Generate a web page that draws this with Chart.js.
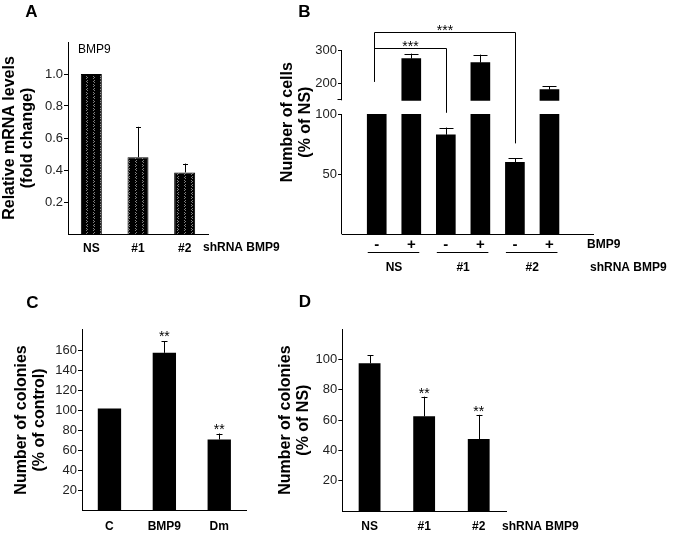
<!DOCTYPE html>
<html>
<head>
<meta charset="utf-8">
<title>BMP9 figure</title>
<script src="https://cdn.jsdelivr.net/npm/chart.js@4.4.1/dist/chart.umd.min.js"></script>
<style>
  html, body { margin: 0; padding: 0; background: #fff; }
  #fig { position: relative; width: 676px; height: 534px; overflow: hidden; background: #fff; }
  #fig canvas { position: absolute; }
</style>
</head>
<body>
<div id="fig">
  <canvas id="panelA" width="300" height="270" style="left:0px;top:0px;width:300px;height:270px"></canvas>
  <canvas id="panelB" width="406" height="285" style="left:270px;top:0px;width:406px;height:285px"></canvas>
  <canvas id="panelC" width="300" height="264" style="left:0px;top:270px;width:300px;height:264px"></canvas>
  <canvas id="panelD" width="406" height="264" style="left:270px;top:270px;width:406px;height:264px"></canvas>
</div>
<script>
// A: BMP9 mRNA after knock-down
const mrnaLabels = ['NS', '#1', '#2'];
const mrnaValues = [1.0, 0.48, 0.385];
const mrnaErrors = [0, 0.19, 0.055];
const mrnaTicks = [0.2, 0.4, 0.6, 0.8, 1.0];

// B: cell number (% of NS), broken axis
const cellGroups = ['NS', '#1', '#2'];
const cellBmp9 = ['-', '+', '-', '+', '-', '+'];
const cellValues = [100, 275, 83, 263, 60, 182];
const cellErrors = [0, 15, 6, 24, 3.5, 10];
const cellTicks = [50, 100, 200, 300];

// C: colonies (% of control)
const colonyLabels = ['C', 'BMP9', 'Dm'];
const colonyValues = [102, 157.5, 71];
const colonyErrors = [0, 11.5, 6];
const colonyStars = ['', '**', '**'];
const colonyTicks = [20, 40, 60, 80, 100, 120, 140, 160];

// D: colonies (% of NS)
const shLabels = ['NS', '#1', '#2'];
const shValues = [97.5, 62.5, 47.5];
const shErrors = [5.5, 13, 16];
const shStars = ['', '**', '**'];
const shTicks = [20, 40, 60, 80, 100];

const FONT = "'Liberation Sans', Arial, Helvetica, sans-serif";
Chart.defaults.font.family = FONT;
Chart.defaults.color = '#000';
Chart.defaults.animation = false;
Chart.defaults.plugins.legend.display = false;
Chart.defaults.plugins.tooltip.enabled = false;

// broken axis of panel B: 0-100 below, 150-300 compressed above
const brk = { lowTop: 100, upFrom: 150, upBase: 111.7, upRate: 0.278 };
function toAxis(v) {
  return v <= brk.lowTop ? v : brk.upBase + (v - brk.upFrom) * brk.upRate;
}

function putText(ctx, str, x, y, font, align, baseline) {
  ctx.save();
  ctx.font = font + ' ' + FONT;
  ctx.fillStyle = '#000';
  ctx.textAlign = align || 'center';
  ctx.textBaseline = baseline || 'middle';
  ctx.fillText(str, x, y);
  ctx.restore();
}

function line(ctx, x1, y1, x2, y2) {
  ctx.save();
  ctx.strokeStyle = '#000';
  ctx.lineWidth = 1;
  ctx.beginPath();
  ctx.moveTo(x1, y1);
  ctx.lineTo(x2, y2);
  ctx.stroke();
  ctx.restore();
}

function errorBar(ctx, x, yFrom, yTo, cap) {
  const cx = Math.round(x) + 0.5;
  line(ctx, cx, yFrom, cx, yTo);
  line(ctx, cx - cap, Math.round(yTo) + 0.5, cx + cap, Math.round(yTo) + 0.5);
}

function yAxis(o) {
  return {
    min: 0,
    max: o.max,
    afterFit: s => { s.width = o.width; },
    afterBuildTicks: s => { s.ticks = o.ticks.map(v => ({ value: v })); },
    ticks: { font: { size: 13 }, color: '#222', padding: 1, callback: o.callback },
    grid: { display: true, drawOnChartArea: false, drawTicks: true, tickLength: 4, color: '#000' },
    border: { display: o.border !== false, color: '#000', width: 1 },
    title: {
      display: true,
      text: o.title,
      color: '#000',
      font: { size: 16, weight: 'bold', lineHeight: 1.1 },
      padding: { top: o.titlePad, bottom: 0 }
    }
  };
}

function xCategory(height, pad) {
  return {
    type: 'category',
    offset: true,
    afterFit: s => { s.height = height; },
    grid: { display: false, drawTicks: false },
    border: { display: true, color: '#000', width: 1 },
    ticks: { font: { size: 12, weight: 'bold' }, color: '#000', padding: pad, maxRotation: 0, autoSkip: false }
  };
}

// dotted fill of panel A bars
function bmpPattern() {
  const c = document.createElement('canvas');
  c.width = 7;
  c.height = 8;
  const g = c.getContext('2d');
  g.fillStyle = '#000';
  g.fillRect(0, 0, 7, 8);
  g.fillStyle = '#808080';
  [[3, 0], [2, 1], [3, 2], [2, 4], [3, 5], [2, 6]].forEach(p => g.fillRect(p[0], p[1], 1, 1));
  return g.createPattern(c, 'repeat');
}

// Panel A
new Chart(document.getElementById('panelA'), {
  type: 'bar',
  data: {
    labels: mrnaLabels,
    datasets: [{
      data: mrnaValues,
      backgroundColor: bmpPattern(),
      borderColor: '#000',
      borderWidth: 1,
      barPercentage: 0.45,
      categoryPercentage: 1
    }]
  },
  options: {
    responsive: false,
    layout: { padding: { left: 0, top: 42, right: 92, bottom: 0 } },
    scales: {
      x: xCategory(36, 7),
      y: yAxis({
        max: 1.2, width: 68, ticks: mrnaTicks, callback: v => v.toFixed(1),
        title: ['Relative mRNA levels', '(fold change)'], titlePad: 1.2
      })
    }
  },
  plugins: [{
    id: 'panelA',
    afterDatasetsDraw(chart) {
      const { ctx, chartArea: a, scales: { y } } = chart;
      const bars = chart.getDatasetMeta(0).data;
      mrnaValues.forEach((v, i) => {
        if (mrnaErrors[i]) errorBar(ctx, bars[i].x, y.getPixelForValue(v), y.getPixelForValue(v + mrnaErrors[i]), 2.5);
      });
      putText(ctx, 'A', 31.5, 12.5, 'bold 17px');
      putText(ctx, 'BMP9', a.left + 10, a.top + 8, '12px', 'left');
      putText(ctx, 'shRNA BMP9', a.right - 5, a.bottom + 14, 'bold 12px', 'left');
    }
  }]
});

// Panel B
const cellBrackets = [
  { from: 0.913, to: 3, top: 155, leftEnd: 127.2, rightEnd: 101.3, label: '***' },
  { from: 0.913, to: 5, top: 168.3, leftEnd: 127.2, rightEnd: 75.8, label: '***' }
];

new Chart(document.getElementById('panelB'), {
  type: 'bar',
  data: {
    datasets: [
      {
        data: cellValues.map((v, i) => ({ x: i + 1, y: Math.min(v, brk.lowTop) })),
        backgroundColor: '#000',
        barThickness: 19,
        grouped: false
      },
      {
        data: cellValues.map((v, i) => ({ x: i + 1, y: [brk.upBase, toAxis(v)] }))
          .filter((d, i) => cellValues[i] > brk.upFrom),
        backgroundColor: '#000',
        barThickness: 19,
        grouped: false
      }
    ]
  },
  options: {
    responsive: false,
    layout: { padding: { left: 0, top: 10, right: 83, bottom: 0 } },
    scales: {
      x: {
        type: 'linear',
        min: 0.6,
        max: 6.655,
        afterFit: s => { s.height = 50.7; },
        afterBuildTicks: s => { s.ticks = cellBmp9.map((b, i) => ({ value: i + 1 })); },
        grid: { display: false, drawTicks: false },
        border: { display: true, color: '#000', width: 1 },
        ticks: { font: { size: 15, weight: 'bold' }, color: '#000', padding: 2, maxRotation: 0, autoSkip: false,
          callback: (v, i) => cellBmp9[i] }
      },
      y: yAxis({
        max: 187, width: 72, ticks: cellTicks.map(toAxis), callback: (v, i) => cellTicks[i],
        title: ['Number of cells', '(% of NS)'], titlePad: 9.2, border: false
      })
    }
  },
  plugins: [{
    id: 'panelB',
    afterDatasetsDraw(chart) {
      const { ctx, chartArea: a, scales: { x, y } } = chart;
      const ax = Math.round(a.left) - 0.5;
      // broken y axis
      line(ctx, ax, y.getPixelForValue(0), ax, y.getPixelForValue(brk.lowTop));
      line(ctx, ax, y.getPixelForValue(brk.upBase), ax, y.getPixelForValue(toAxis(300)));
      const capY = Math.round(y.getPixelForValue(brk.upBase)) - 0.5;
      line(ctx, ax - 4, capY, ax, capY);

      cellValues.forEach((v, i) => {
        const e = cellErrors[i];
        if (e) errorBar(ctx, x.getPixelForValue(i + 1), y.getPixelForValue(toAxis(v)), y.getPixelForValue(toAxis(v + e)), 7);
      });

      cellBrackets.forEach(b => {
        const x1 = Math.round(x.getPixelForValue(b.from)) + 0.5;
        const x2 = Math.round(x.getPixelForValue(b.to)) + 0.5;
        const yt = Math.round(y.getPixelForValue(b.top)) + 0.5;
        line(ctx, x1, y.getPixelForValue(b.leftEnd), x1, yt);
        line(ctx, x1, yt, x2, yt);
        line(ctx, x2, yt, x2, y.getPixelForValue(b.rightEnd));
        putText(ctx, b.label, (x1 + x2) / 2, yt + 2.5, '14px', 'center', 'alphabetic');
      });

      // group underline and names
      cellGroups.forEach((g, k) => {
        const xa = x.getPixelForValue(2 * k + 1);
        const xb = x.getPixelForValue(2 * k + 2);
        line(ctx, xa - 9, Math.round(a.bottom + 17.4) + 0.5, xb + 8, Math.round(a.bottom + 17.4) + 0.5);
        putText(ctx, g, (xa + xb) / 2, a.bottom + 33.4, 'bold 12px');
      });
      putText(ctx, 'BMP9', a.right - 6, a.bottom + 10.7, 'bold 12px', 'left');
      putText(ctx, 'shRNA BMP9', a.right - 3, a.bottom + 33.4, 'bold 12px', 'left');
      putText(ctx, 'B', 34.5, 12, 'bold 17px');
    }
  }]
});

// Panel C
new Chart(document.getElementById('panelC'), {
  type: 'bar',
  data: {
    labels: colonyLabels,
    datasets: [{ data: colonyValues, backgroundColor: '#000', barPercentage: 0.425, categoryPercentage: 1 }]
  },
  options: {
    responsive: false,
    layout: { padding: { left: 0, top: 59.3, right: 53.3, bottom: 0 } },
    scales: {
      x: xCategory(23.3, 9),
      y: yAxis({
        max: 181, width: 82, ticks: colonyTicks, callback: v => v,
        title: ['Number of colonies', '(% of control)'], titlePad: 12.9
      })
    }
  },
  plugins: [{
    id: 'panelC',
    afterDatasetsDraw(chart) {
      const { ctx, scales: { y } } = chart;
      const bars = chart.getDatasetMeta(0).data;
      colonyValues.forEach((v, i) => {
        const top = y.getPixelForValue(v + colonyErrors[i]);
        if (colonyErrors[i]) errorBar(ctx, bars[i].x, y.getPixelForValue(v), top, 3);
        if (colonyStars[i]) putText(ctx, colonyStars[i], bars[i].x, top, '14px', 'center', 'alphabetic');
      });
      putText(ctx, 'C', 32.5, 33, 'bold 17px');
    }
  }]
});

// Panel D
new Chart(document.getElementById('panelD'), {
  type: 'bar',
  data: {
    labels: shLabels,
    datasets: [{ data: shValues, backgroundColor: '#000', barPercentage: 0.4, categoryPercentage: 1 }]
  },
  options: {
    responsive: false,
    layout: { padding: { left: 0, top: 59.3, right: 170, bottom: 0 } },
    scales: {
      x: xCategory(23, 8.5),
      y: yAxis({
        max: 120, width: 72.3, ticks: shTicks, callback: v => v,
        title: ['Number of colonies', '(% of NS)'], titlePad: 7.2
      })
    }
  },
  plugins: [{
    id: 'panelD',
    afterDatasetsDraw(chart) {
      const { ctx, chartArea: a, scales: { y } } = chart;
      const bars = chart.getDatasetMeta(0).data;
      shValues.forEach((v, i) => {
        const top = y.getPixelForValue(v + shErrors[i]);
        errorBar(ctx, bars[i].x, y.getPixelForValue(v), top, 3);
        if (shStars[i]) putText(ctx, shStars[i], bars[i].x, top + 1, '14px', 'center', 'alphabetic');
      });
      putText(ctx, 'shRNA BMP9', a.right - 4, a.bottom + 15.7, 'bold 12px', 'left');
      putText(ctx, 'D', 35, 32.5, 'bold 17px');
    }
  }]
});
</script>
</body>
</html>
